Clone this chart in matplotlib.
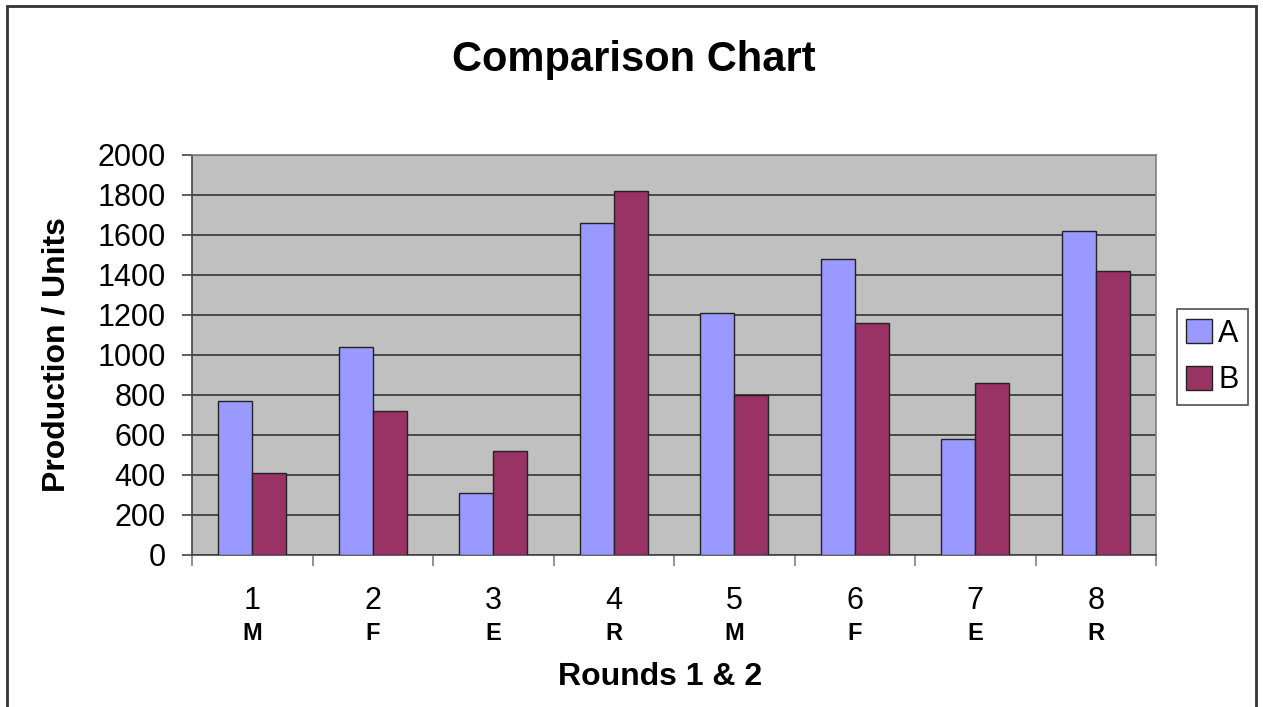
import matplotlib.pyplot as plt
from matplotlib.patches import Rectangle
import numpy as np

rounds = ['1', '2', '3', '4', '5', '6', '7', '8']
stages = ['M', 'F', 'E', 'R', 'M', 'F', 'E', 'R']
series_a = [770, 1040, 310, 1660, 1210, 1480, 580, 1620]
series_b = [410, 720, 520, 1820, 800, 1160, 860, 1420]

plt.rcParams['font.family'] = ['Liberation Sans', 'DejaVu Sans']

fig = plt.figure(figsize=(12.63, 7.07), dpi=100)
ax = fig.add_axes([192 / 1263, 1 - 555 / 707, 964 / 1263, 400 / 707])

x = np.arange(len(rounds))
w = 0.283
ax.bar(x - w / 2, series_a, w, color='#9999FF', edgecolor='#222222', linewidth=1, label='A', zorder=3)
ax.bar(x + w / 2, series_b, w, color='#993366', edgecolor='#222222', linewidth=1, label='B', zorder=3)

ax.set_facecolor('#C0C0C0')
ax.set_xlim(-0.5, len(rounds) - 0.5)
ax.set_ylim(0, 2000)
ax.set_yticks(range(0, 2001, 200))
ax.yaxis.grid(True, color='#333333', linewidth=1.2, zorder=1)
for s in ax.spines.values():
    s.set_color('#808080')
    s.set_linewidth(1.2)
ax.spines['left'].set_color('#444444')
ax.spines['bottom'].set_color('#444444')

ax.tick_params(axis='y', direction='out', length=7, width=1.2, color='#444444', labelsize=22, pad=12)
ax.set_xticks(x)
ax.set_xticklabels(rounds, fontsize=22)
ax.set_xticks(np.arange(-0.5, len(rounds), 1), minor=True)
ax.tick_params(axis='x', which='major', length=0, pad=22)
ax.tick_params(axis='x', which='minor', direction='out', length=8, width=1.2, color='#808080')

for xi, st in zip(x, stages):
    ax.text(xi, -0.195, st, transform=ax.get_xaxis_transform(), ha='center', va='center',
            fontsize=17, fontweight='bold')

fig.text(634 / 1263, 1 - 60 / 707, 'Comparison Chart', ha='center', va='center', fontsize=30, fontweight='bold')
fig.text(57 / 1263, 1 - 355 / 707, 'Production / Units', ha='center', va='center', rotation=90,
         fontsize=23, fontweight='bold')
fig.text(660 / 1263, 1 - 677 / 707, 'Rounds 1 & 2', ha='center', va='center', fontsize=23, fontweight='bold')

leg = ax.legend(loc='center left', bbox_to_anchor=(1177 / 1263, 1 - 357 / 707), bbox_transform=fig.transFigure,
                fontsize=22, frameon=True, fancybox=False, borderpad=0.3, handlelength=0.85, handleheight=0.85,
                handletextpad=0.2, labelspacing=0.55, borderaxespad=0)
leg.get_frame().set_edgecolor('#222222')
leg.get_frame().set_linewidth(1.2)

# outer chart border
fig.patches.append(Rectangle((7 / 1263, -0.1), 1249 / 1263, 1.1 - 6 / 707, transform=fig.transFigure,
                             fill=False, edgecolor='#333333', linewidth=2))

fig.savefig('out.png', dpi=100)
